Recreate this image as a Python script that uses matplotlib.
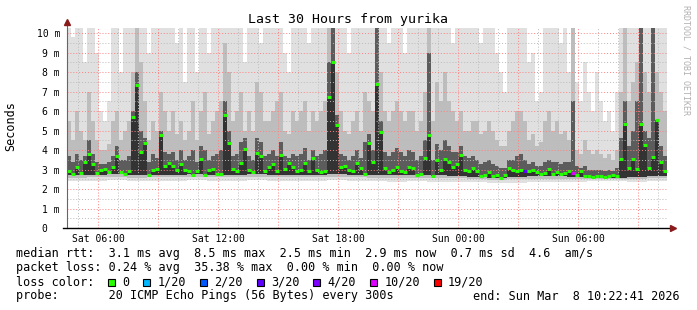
import matplotlib
matplotlib.use("Agg")
import matplotlib.pyplot as plt
from matplotlib.patches import Rectangle
import numpy as np

plt.rcParams['font.family'] = ['DejaVu Sans Mono']

# time axis: hours since Sat 00:00, one step = 12 min
t0 = 4.45
dt = 0.2

# median rtt per step (ms)
med = [2.94, 2.75, 3.11, 2.80, 3.40, 3.79, 3.26, 2.80, 3.00, 3.05, 2.85, 3.11, 3.71, 2.85, 2.77, 2.90, 5.71, 7.33, 3.90, 4.34, 2.70, 3.00, 3.05, 4.77, 3.20,
       3.31, 3.19, 2.95, 3.30, 2.98, 2.92, 2.72, 2.90, 3.52, 2.72, 2.98, 3.05, 2.75, 2.77, 5.79, 4.34, 3.05, 2.94, 3.36, 4.07, 3.00, 2.88, 3.83, 3.71, 2.94,
       3.11, 3.30, 2.90, 3.76, 3.05, 3.31, 3.12, 2.90, 3.00, 3.36, 2.90, 3.60, 3.00, 2.85, 2.90, 6.73, 8.53, 5.28, 3.12, 3.20, 2.98, 2.90, 3.36, 3.10, 2.75,
       4.38, 3.37, 7.37, 4.94, 3.10, 2.85, 3.00, 3.15, 2.90, 2.85, 3.15, 3.10, 2.72, 2.75, 3.60, 4.77, 2.68, 3.50, 2.98, 3.52, 3.40, 3.15, 3.30, 3.74, 3.00,
       2.94, 3.08, 2.92, 2.68, 2.72, 2.88, 2.68, 2.70, 2.55, 2.70, 3.10, 3.00, 2.90, 2.98, 2.94, 2.90, 3.00, 2.85, 2.77, 2.80, 3.05, 2.77, 2.85, 2.77, 2.80,
       2.94, 2.80, 2.72, 2.90, 2.68, 2.65, 2.62, 2.68, 2.65, 2.62, 2.65, 2.72, 2.65, 3.52, 5.31, 3.10, 3.55, 3.05, 5.34, 4.25, 3.10, 3.62, 5.54, 3.40, 2.94]

# upper smoke: 75th / 90th percentile and max ping per step (ms)
q75 = [3.7, 3.4, 3.8, 3.5, 3.7, 4.5, 3.8, 3.4, 3.3, 3.3, 3.4, 3.7, 4.2, 3.5, 3.5, 3.7, 6.0, 8.0, 5.0, 4.6, 3.4, 3.8, 3.6, 5.0, 3.9,
       3.8, 3.9, 3.5, 4.0, 3.5, 3.7, 4.0, 3.4, 4.2, 4.0, 3.5, 3.7, 3.8, 4.0, 6.5, 5.0, 3.7, 3.8, 4.4, 4.6, 3.7, 3.5, 4.6, 4.4, 3.7,
       3.8, 4.0, 3.7, 4.4, 3.7, 3.6, 3.8, 3.7, 3.8, 4.1, 3.5, 4.0, 3.7, 3.8, 4.0, 8.5, 10.3, 5.8, 3.8, 3.7, 3.5, 3.7, 4.0, 3.6, 4.4,
       4.8, 4.0, 10.3, 5.5, 3.9, 3.7, 3.9, 4.1, 3.9, 3.7, 4.0, 3.9, 3.5, 3.7, 4.5, 9.0, 3.5, 4.3, 4.0, 4.5, 4.2, 3.9, 3.9, 4.2, 3.7,
       3.6, 3.7, 3.5, 3.3, 3.4, 3.5, 3.3, 3.2, 3.1, 3.1, 3.5, 3.5, 3.7, 3.8, 3.5, 3.3, 3.4, 3.2, 3.2, 3.4, 3.5, 3.4, 3.4, 3.3, 3.4,
       3.4, 6.5, 3.2, 3.1, 3.2, 3.0, 3.0, 3.0, 3.0, 2.9, 3.0, 2.9, 3.1, 4.6, 6.5, 4.2, 5.0, 6.5, 10.3, 5.0, 4.6, 10.3, 4.6, 4.2, 3.7]

q90 = [5.5, 4.5, 6.0, 5.0, 4.5, 7.0, 5.5, 4.5, 4.0, 4.0, 4.3, 5.5, 6.0, 4.5, 5.0, 5.5, 8.0, 10.3, 8.5, 6.5, 4.5, 5.5, 5.0, 7.0, 6.0,
       5.0, 6.0, 4.8, 5.5, 4.5, 5.0, 6.5, 4.5, 6.0, 7.0, 4.8, 5.5, 6.0, 6.5, 9.5, 8.0, 5.5, 6.0, 7.0, 5.0, 6.0, 5.0, 7.5, 7.0, 5.5,
       5.5, 6.0, 6.5, 7.0, 5.0, 4.8, 6.0, 5.5, 6.0, 6.5, 5.0, 6.0, 5.5, 6.0, 6.5, 10.3, 10.3, 8.0, 6.0, 5.0, 4.8, 5.5, 6.0, 5.0, 7.0,
       6.5, 6.0, 10.3, 8.0, 6.0, 5.5, 6.0, 6.5, 6.0, 5.5, 6.0, 6.0, 5.0, 5.5, 7.0, 10.3, 5.5, 7.5, 6.5, 8.0, 6.5, 6.0, 5.5, 6.0, 5.0,
       5.0, 5.5, 5.5, 4.8, 5.0, 5.5, 5.0, 4.5, 4.2, 4.2, 5.0, 5.5, 6.0, 6.0, 5.5, 4.5, 4.8, 4.2, 4.4, 5.5, 6.0, 5.0, 5.5, 4.8, 5.0,
       4.5, 10.3, 4.0, 3.8, 4.5, 4.0, 3.8, 4.0, 3.8, 3.6, 3.8, 3.5, 4.0, 7.0, 10.3, 6.5, 7.5, 8.5, 10.3, 8.0, 7.0, 10.3, 8.0, 7.0, 6.0]

hi = [10.3, 9.8, 10.3, 10.3, 8.5, 10.3, 10.3, 9.0, 6.0, 5.5, 6.5, 10.3, 10.3, 8.0, 10.3, 10.3, 10.3, 10.3, 10.3, 10.3, 9.0, 10.3, 10.3, 10.3, 10.3,
      10.3, 10.3, 9.5, 10.3, 7.5, 10.3, 10.3, 8.0, 10.3, 10.3, 9.0, 10.3, 10.3, 10.3, 10.3, 10.3, 10.3, 10.3, 10.3, 8.5, 10.3, 10.3, 10.3, 9.5, 10.3,
      10.3, 10.3, 10.3, 10.3, 9.0, 8.0, 10.3, 10.3, 10.3, 10.3, 9.5, 10.3, 10.3, 10.3, 10.3, 10.3, 10.3, 10.3, 10.3, 10.3, 9.0, 10.3, 10.3, 10.3, 10.3,
      10.3, 10.3, 10.3, 10.3, 10.3, 9.5, 10.3, 10.3, 10.3, 9.0, 10.3, 10.3, 10.3, 10.3, 10.3, 10.3, 10.3, 10.3, 10.3, 10.3, 10.3, 9.5, 10.3, 10.3, 10.3,
      10.3, 10.3, 10.3, 9.5, 10.3, 10.3, 10.3, 9.0, 8.0, 7.0, 10.3, 10.3, 10.3, 10.3, 10.3, 8.5, 9.0, 6.5, 7.0, 10.3, 10.3, 10.3, 10.3, 9.5, 10.3,
      8.0, 10.3, 7.5, 6.5, 8.5, 7.0, 6.0, 8.0, 6.5, 5.5, 6.0, 5.0, 7.0, 10.3, 10.3, 10.3, 10.3, 10.3, 10.3, 10.3, 10.3, 10.3, 10.3, 10.3, 10.3]

# lower smoke, hourly (min ping, 10th and 25th percentile)
lo_h = [2.40, 2.42, 2.45, 2.42, 2.40, 2.42, 2.45, 2.40, 2.42, 2.45, 2.42, 2.40, 2.42, 2.45, 2.42,
        2.40, 2.38, 2.40, 2.38, 2.36, 2.34, 2.30, 2.32, 2.35, 2.35, 2.38, 2.40, 2.40, 2.38, 2.40]
q10_h = [2.58, 2.60, 2.60, 2.58, 2.60, 2.60, 2.62, 2.60, 2.60, 2.62, 2.60, 2.60, 2.60, 2.62, 2.60,
         2.58, 2.56, 2.58, 2.56, 2.55, 2.52, 2.48, 2.50, 2.52, 2.52, 2.50, 2.50, 2.50, 2.52, 2.55]
q25_h = [2.72, 2.74, 2.75, 2.72, 2.74, 2.74, 2.76, 2.74, 2.74, 2.76, 2.74, 2.74, 2.74, 2.76, 2.74,
         2.72, 2.70, 2.72, 2.70, 2.68, 2.64, 2.58, 2.62, 2.66, 2.66, 2.60, 2.58, 2.58, 2.62, 2.68]

# steps with packet loss
loss_steps = [114, 126]
loss_levels = ['3/20', '10/20']

loss_names = ['0', '1/20', '2/20', '3/20', '4/20', '10/20', '19/20']
loss_colors = ['#26ff00', '#00b8ff', '#0059ff', '#5e00ff', '#7e00ff', '#dd00ff', '#ff0000']

xtick_pos = [6, 12, 18, 24, 30]
xtick_lab = ['Sat 06:00', 'Sat 12:00', 'Sat 18:00', 'Sun 00:00', 'Sun 06:00']

title = 'Last 30 Hours from yurika'
stats_lines = [
    'median rtt:  3.1 ms avg  8.5 ms max  2.5 ms min  2.9 ms now  0.7 ms sd  4.6  am/s',
    'packet loss: 0.24 % avg  35.38 % max  0.00 % min  0.00 % now',
]
probe_line = 'probe:       20 ICMP Echo Pings (56 Bytes) every 300s'
end_line = 'end: Sun Mar  8 10:22:41 2026'

W, H = 697, 310
fig = plt.figure(figsize=(W / 100, H / 100), dpi=100)
fig.patch.set_facecolor('white')
ax = fig.add_axes([67 / W, (H - 228) / H, 600 / W, 200 / H])

n = len(med)
edges = t0 + dt * np.arange(n + 1)


def steps(v):
    return np.repeat(edges, 2)[1:-1], np.repeat(np.asarray(v, float), 2)


lo = np.repeat(lo_h, 5)
q10 = np.repeat(q10_h, 5)
q25 = np.repeat(q25_h, 5)

xs, ylo = steps(lo)
_, y10 = steps(q10)
_, y25 = steps(q25)
_, ymed = steps(med)
_, y75 = steps(q75)
_, y90 = steps(q90)
_, yhi = steps(hi)

ax.fill_between(xs, ylo, yhi, color='#e0e0e0', lw=0, zorder=1)
ax.fill_between(xs, y10, y90, color='#bdbdbd', lw=0, zorder=1.1)
ax.fill_between(xs, y25, y75, color='#5c5c5c', lw=0, zorder=1.2)
ax.fill_between(xs, y25, ymed, color='#333333', lw=0, zorder=1.3)

cols = [loss_colors[0]] * n
for s, lv in zip(loss_steps, loss_levels):
    cols[s] = loss_colors[loss_names.index(lv)]
ax.hlines(med, edges[:-1], edges[1:], colors=cols, lw=2.2, zorder=4)

ax.set_xlim(t0, t0 + dt * n)
ax.set_ylim(0, 10.26)

# grid
ax.set_yticks(range(0, 11))
ax.set_yticklabels(['0  '] + ['%d m' % v for v in range(1, 11)])
ax.set_yticks(np.arange(0.5, 10.5, 1.0), minor=True)
maj_x = list(range(6, 35, 3))
ax.set_xticks(maj_x)
ax.set_xticklabels([xtick_lab[xtick_pos.index(p)] if p in xtick_pos else '' for p in maj_x])
ax.set_xticks(range(5, 35), minor=True)
ax.set_axisbelow(False)
ax.grid(which='major', color='#ff8080', ls=(0, (1, 2)), lw=0.7)
ax.grid(which='minor', color='#bbbbbb', ls=(0, (1, 2)), lw=0.7)
ax.tick_params(which='both', length=0, labelsize=7, pad=5)
ax.tick_params(axis='x', pad=4)

for s in ['top', 'right', 'left', 'bottom']:
    ax.spines[s].set_visible(False)
ax.plot([0, 0], [0, 1.025], transform=ax.transAxes, color='#666666', lw=0.8, clip_on=False, zorder=5)
ax.plot([-0.006, 1.01], [0, 0], transform=ax.transAxes, color='black', lw=1.0, clip_on=False, zorder=5)
ax.plot([0], [1.03], marker='^', ms=4, color='#8b1a1a', transform=ax.transAxes, clip_on=False, zorder=6)
ax.plot([1.01], [0], marker='>', ms=4, color='#8b1a1a', transform=ax.transAxes, clip_on=False, zorder=6)

# texts
fig.text(348 / W, 1 - 20 / H, title, ha='center', va='center', fontsize=9.5)
fig.text(11 / W, 1 - 126 / H, 'Seconds', rotation=90, ha='center', va='center', fontsize=8.5)
fig.text(686 / W, 1 - 5 / H, 'RRDTOOL / TOBI OETIKER', rotation=270, ha='center', va='top',
         fontsize=6, color='#b0b0b0')

x0 = 16 / W
for k, line in enumerate(stats_lines):
    fig.text(x0, 1 - (254 + 14 * k) / H, line, ha='left', va='center', fontsize=8.5)

cw = 7.08
fig.text(x0, 1 - 282 / H, 'loss color:', ha='left', va='center', fontsize=8.5)
idx = 13
for name, c in zip(loss_names, loss_colors):
    bx = 16 + idx * cw
    fig.patches.append(Rectangle((bx / W, 1 - 285.5 / H), 7 / W, 7 / H, transform=fig.transFigure,
                                 facecolor=c, edgecolor='black', lw=0.8))
    fig.text((bx + 2 * cw) / W, 1 - 282 / H, name, ha='left', va='center', fontsize=8.5)
    idx += 2 + len(name) + 2

fig.text(x0, 1 - 296 / H, probe_line, ha='left', va='center', fontsize=8.5)
fig.text(680 / W, 1 - 296 / H, end_line, ha='right', va='center', fontsize=8.5)

fig.savefig('out.png', dpi=100, facecolor='white')
